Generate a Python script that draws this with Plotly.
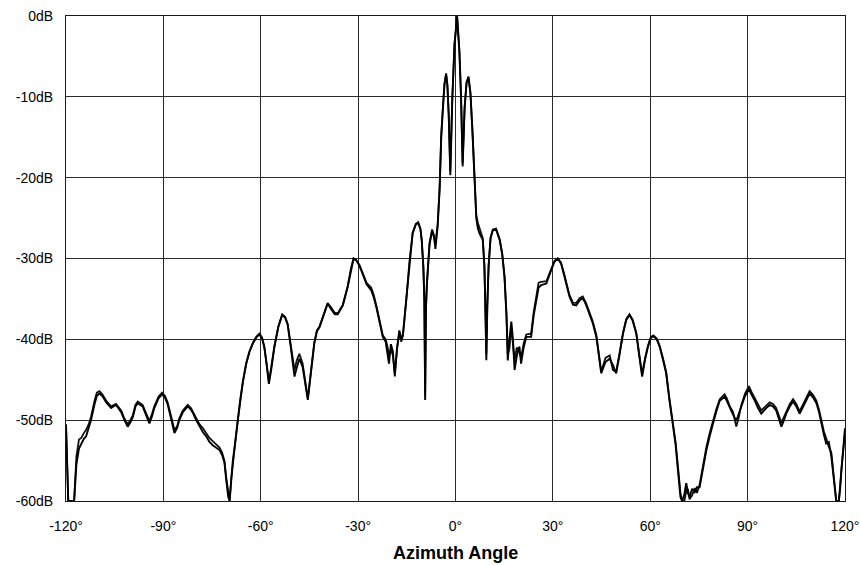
import plotly.graph_objects as go

angle = [-120.0, -119.6, -119.3, -117.5, -116.8, -116.0, -115.3, -114.5, -113.8, -113.0,
         -112.3, -111.2, -110.5, -109.7, -108.8, -107.6, -106.1, -104.6, -103.0, -102.0,
         -101.0, -100.2, -99.4, -98.6, -97.9, -96.4, -95.3, -94.3, -93.5, -92.8,
         -91.5, -90.4, -89.5, -88.7, -87.5, -86.6, -85.8, -85.1, -84.0, -82.5,
         -81.5, -80.9, -79.9, -78.9, -77.8, -76.8, -75.8, -74.8, -73.8, -72.7,
         -71.9, -71.2, -70.6, -70.0, -69.6, -69.1, -68.6, -67.8, -67.1, -66.3,
         -65.5, -64.5, -63.5, -62.4, -61.4, -60.4, -59.6, -58.9, -58.2, -57.5,
         -56.8, -55.8, -54.6, -53.4, -52.5, -51.7, -50.9, -50.1, -49.6, -48.9,
         -48.1, -47.1, -46.3, -45.5, -44.5, -43.5, -42.7, -41.9, -40.6, -39.4,
         -38.4, -37.2, -36.3, -35.5, -34.7, -33.2, -32.2, -31.4, -30.6, -29.6,
         -28.6, -27.4, -26.0, -25.2, -24.4, -23.4, -22.4, -21.5, -21.0, -20.5,
         -19.9, -19.3, -18.7, -18.0, -17.3, -16.7, -16.2, -15.2, -14.2, -13.2,
         -12.2, -11.5, -10.8, -10.4, -9.9, -9.6, -9.35, -9.1, -8.8, -8.0,
         -7.2, -6.6, -6.2, -5.9, -5.5, -4.9, -4.4, -3.9, -3.4, -2.9,
         -2.5, -2.1, -1.6, -1.0, -0.3, 0.5, 1.2, 1.7, 2.2, 2.8,
         3.4, 4.0, 4.6, 5.2, 5.9, 6.4, 6.9, 7.4, 8.4, 8.9,
         9.2, 9.5, 9.8, 10.2, 10.8, 11.5, 12.5, 13.6, 14.4, 15.1,
         15.7, 16.1, 16.6, 17.2, 17.7, 18.2, 18.9, 19.7, 20.2, 21.0,
         21.8, 23.3, 24.1, 24.9, 25.6, 26.4, 28.0, 29.5, 30.5, 31.5,
         32.5, 33.6, 35.1, 36.2, 37.2, 38.2, 39.2, 40.2, 41.3, 42.3,
         43.4, 44.2, 44.9, 46.2, 47.5, 48.5, 49.5, 50.5, 51.6, 52.6,
         53.6, 54.6, 55.7, 56.6, 57.5, 58.4, 59.3, 60.2, 61.0, 62.0,
         62.9, 63.9, 64.9, 65.9, 67.0, 67.8, 68.6, 69.3, 69.8, 70.5,
         71.1, 71.6, 72.1, 72.9, 73.7, 74.4, 75.2, 76.2, 77.3, 78.3,
         79.3, 80.3, 81.4, 82.9, 83.6, 84.4, 85.5, 86.5, 87.2, 88.0,
         89.2, 90.4, 91.2, 92.1, 93.2, 94.2, 95.5, 96.8, 97.8, 98.8,
         99.6, 100.4, 101.2, 101.9, 103.0, 104.0, 105.0, 106.0, 107.5, 109.1,
         110.2, 111.2, 112.0, 112.7, 113.5, 114.2, 115.0, 115.8, 116.4, 116.8,
         117.3, 118.1, 118.5, 118.9, 119.4, 120.0]

pattern_a = [-50.5, -56.0, -60.0, -60.0, -55.5, -53.5, -53.0, -52.3, -52.0, -51.0,
             -50.0, -48.0, -47.0, -46.7, -47.0, -47.8, -48.5, -48.1, -49.0, -50.0,
             -50.8, -50.3, -49.6, -48.3, -47.9, -48.3, -49.5, -50.4, -49.5, -48.5,
             -47.3, -46.8, -47.2, -48.0, -50.0, -51.6, -51.0, -50.0, -49.0, -48.3,
             -48.7, -49.1, -50.0, -50.8, -51.5, -52.0, -52.7, -53.1, -53.4, -53.7,
             -54.3, -55.2, -57.5, -59.5, -60.0, -57.0, -55.0, -52.5, -50.0, -47.4,
             -45.2, -43.0, -41.5, -40.4, -39.7, -39.3, -39.8, -40.9, -43.0, -45.5,
             -43.8, -41.0, -38.5, -37.0, -37.3, -38.2, -40.5, -43.3, -44.6, -43.5,
             -42.4, -43.4, -45.5, -47.5, -44.0, -40.5, -39.0, -38.5, -37.0, -35.6,
             -36.2, -36.9, -36.9, -36.4, -35.8, -33.5, -31.3, -30.0, -30.2, -30.9,
             -31.9, -33.2, -33.9, -34.8, -36.0, -37.8, -39.7, -40.3, -41.5, -43.0,
             -40.6, -41.5, -44.6, -41.0, -38.9, -40.0, -39.4, -35.1, -30.2, -26.8,
             -25.7, -25.5, -26.3, -27.7, -31.0, -35.0, -47.5, -36.0, -33.0, -28.1,
             -26.4, -27.2, -28.8, -27.5, -26.0, -21.5, -15.0, -11.6, -8.5, -7.1,
             -8.5, -12.0, -19.7, -10.5, -3.5, 0.0, -4.5, -10.0, -18.6, -11.5,
             -8.3, -7.5, -9.5, -14.0, -21.5, -25.0, -26.3, -26.9, -27.7, -31.0,
             -36.0, -42.6, -36.0, -31.0, -27.5, -26.5, -26.4, -27.7, -29.5, -32.3,
             -37.0, -42.6, -40.0, -37.8, -40.0, -43.8, -42.0, -40.9, -43.0, -41.0,
             -39.7, -39.7, -37.0, -34.9, -33.6, -33.3, -33.1, -31.4, -30.4, -30.0,
             -30.6, -32.3, -34.7, -35.7, -35.8, -35.2, -34.9, -35.7, -37.0, -38.0,
             -39.7, -42.5, -44.2, -42.8, -42.4, -43.2, -44.2, -42.0, -39.3, -37.6,
             -37.0, -37.7, -39.3, -42.0, -44.6, -42.5, -40.9, -39.8, -39.6, -40.0,
             -40.9, -42.5, -44.2, -47.5, -50.5, -53.0, -56.5, -59.5, -60.0, -59.2,
             -57.8, -59.0, -59.5, -58.5, -58.9, -58.3, -58.3, -56.0, -53.7, -52.0,
             -50.4, -49.0, -47.6, -47.1, -47.6, -48.4, -49.3, -50.1, -49.3, -48.4,
             -47.0, -46.2, -46.8, -47.5, -48.5, -49.2, -48.6, -48.1, -48.3, -48.8,
             -49.8, -50.8, -50.0, -49.2, -48.3, -47.7, -48.3, -49.2, -48.0, -46.7,
             -47.2, -47.9, -49.0, -50.4, -51.8, -52.9, -52.7, -54.5, -57.0, -58.7,
             -60.0, -60.0, -58.0, -55.4, -53.0, -51.0]

pattern_b = [-50.8, -56.5, -60.0, -60.0, -54.5, -52.4, -52.2, -51.6, -51.2, -50.5,
             -49.6, -47.6, -46.6, -46.4, -46.8, -47.6, -48.3, -48.0, -48.8, -49.8,
             -50.5, -50.0, -49.4, -48.1, -47.7, -48.1, -49.2, -50.1, -49.2, -48.3,
             -47.1, -46.6, -47.0, -47.8, -49.7, -51.2, -50.8, -49.8, -48.8, -48.1,
             -48.5, -49.0, -49.7, -50.5, -51.0, -51.6, -52.2, -52.6, -53.0, -53.4,
             -54.0, -55.0, -57.2, -59.3, -60.0, -57.3, -55.2, -52.6, -50.1, -47.5,
             -45.3, -43.1, -41.6, -40.5, -39.8, -39.4, -39.9, -41.0, -43.2, -45.2,
             -43.5, -40.8, -38.4, -36.9, -37.2, -38.1, -40.3, -42.8, -43.8, -42.6,
             -41.8, -43.0, -45.2, -47.3, -43.8, -40.4, -38.9, -38.4, -36.9, -35.5,
             -36.0, -36.7, -36.8, -36.3, -35.7, -33.4, -31.2, -30.0, -30.2, -30.8,
             -31.8, -33.0, -33.6, -34.5, -35.8, -37.6, -39.5, -40.0, -40.8, -42.0,
             -41.2, -42.0, -44.2, -41.2, -39.2, -40.3, -39.5, -35.3, -30.4, -26.9,
             -25.8, -25.6, -26.4, -27.8, -31.2, -35.2, -47.0, -36.2, -33.2, -28.3,
             -26.6, -27.4, -28.3, -27.2, -25.8, -21.3, -14.8, -11.4, -8.4, -7.2,
             -8.6, -12.2, -19.2, -10.3, -3.4, -0.2, -4.3, -9.8, -18.2, -11.3,
             -8.2, -7.6, -9.6, -14.2, -21.2, -24.6, -25.6, -26.2, -27.5, -30.8,
             -35.8, -41.8, -35.8, -30.8, -27.4, -26.4, -26.3, -27.6, -29.4, -32.2,
             -36.8, -41.8, -41.2, -38.5, -40.6, -42.5, -41.0, -41.6, -42.3, -40.5,
             -39.4, -39.3, -36.6, -34.5, -33.0, -32.9, -32.8, -31.3, -30.3, -30.0,
             -30.5, -32.1, -34.5, -35.5, -35.5, -34.9, -34.7, -35.5, -36.8, -37.8,
             -39.5, -42.3, -44.0, -42.3, -42.0, -43.8, -44.0, -41.8, -39.2, -37.5,
             -36.9, -37.6, -39.2, -41.8, -44.3, -42.3, -40.8, -39.7, -39.5, -39.9,
             -40.8, -42.3, -44.0, -47.3, -50.2, -52.7, -56.0, -59.0, -60.0, -60.0,
             -58.8, -58.5, -59.8, -59.3, -58.4, -59.0, -58.0, -55.5, -53.3, -51.6,
             -50.1, -48.7, -47.4, -46.8, -47.3, -48.2, -49.0, -50.8, -49.8, -48.2,
             -46.7, -45.8, -46.5, -47.2, -48.2, -48.8, -48.3, -47.8, -48.0, -48.5,
             -49.4, -50.3, -49.6, -48.9, -48.0, -47.4, -48.0, -48.9, -47.7, -46.4,
             -46.9, -47.6, -48.7, -50.1, -51.4, -52.2, -53.3, -54.0, -56.5, -58.4,
             -60.0, -60.0, -58.6, -56.0, -53.5, -51.5]

x_ticks = [-120, -90, -60, -30, 0, 30, 60, 90, 120]
x_labels = ["-120°", "-90°", "-60°", "-30°", "0°", "30°", "60°", "90°", "120°"]
y_ticks = [0, -10, -20, -30, -40, -50, -60]
y_labels = ["0dB", "-10dB", "-20dB", "-30dB", "-40dB", "-50dB", "-60dB"]

fig = go.Figure()
fig.add_trace(go.Scatter(x=angle, y=pattern_b, mode="lines",
                         line=dict(color="#111111", width=1.8), showlegend=False))
fig.add_trace(go.Scatter(x=angle, y=pattern_a, mode="lines",
                         line=dict(color="#000000", width=1.9), showlegend=False))

axis_font = dict(family="Liberation Sans, Arial, sans-serif", size=14, color="#000")
fig.update_layout(
    width=860, height=565,
    margin=dict(l=66, r=15, t=16, b=64),
    paper_bgcolor="white", plot_bgcolor="white",
    font=axis_font,
    xaxis=dict(range=[-120, 120], tickvals=x_ticks, ticktext=x_labels,
               showgrid=True, gridcolor="#2a2a2a", gridwidth=1,
               showline=True, linecolor="#1a1a1a", linewidth=1, mirror=True,
               zeroline=False, ticks="", tickfont=axis_font,
               ticklabelstandoff=12, automargin=False),
    yaxis=dict(range=[-60, 0], tickvals=y_ticks, ticktext=y_labels,
               showgrid=True, gridcolor="#2a2a2a", gridwidth=1,
               showline=True, linecolor="#1a1a1a", linewidth=1, mirror=True,
               zeroline=False, ticks="", tickfont=axis_font,
               ticklabelstandoff=9, automargin=False),
    annotations=[dict(text="<b>Azimuth Angle</b>", x=0.5, y=-0.107,
                      xref="paper", yref="paper", xanchor="center", yanchor="middle",
                      showarrow=False,
                      font=dict(family="Liberation Sans, Arial, sans-serif", size=18, color="#000"))],
)

fig.write_html("out.html")
